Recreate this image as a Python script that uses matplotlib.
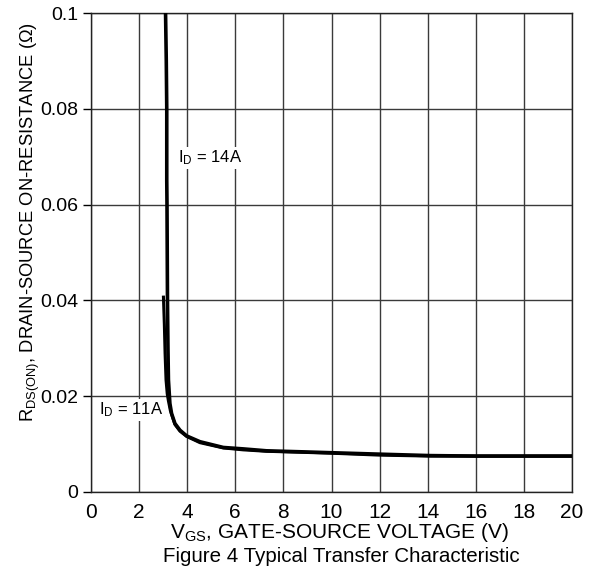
import matplotlib
matplotlib.use("Agg")
import matplotlib.pyplot as plt

plt.rcParams['font.family'] = ['Liberation Sans', 'DejaVu Sans']
plt.rcParams['mathtext.fontset'] = 'custom'
plt.rcParams['mathtext.rm'] = 'Liberation Sans'
plt.rcParams['mathtext.it'] = 'Liberation Sans'

# Data (V_GS in V, R_DS(on) in ohm)
vgs_14a = [3.10, 3.13, 3.15, 3.15, 3.16, 3.17, 3.18, 3.20, 3.22, 3.28, 3.35, 3.49, 3.70, 3.98,
           4.53, 5.50, 6.33, 7.30, 8.69, 10.0, 12.0, 14.1, 16.0, 18.0, 20.0]
rds_14a = [0.100, 0.090, 0.080, 0.065, 0.060, 0.050, 0.040, 0.030, 0.0234, 0.0185, 0.0164, 0.0143,
           0.0129, 0.0117, 0.0105, 0.0093, 0.0090, 0.0086, 0.0084, 0.0082, 0.0079, 0.0076,
           0.0075, 0.0075, 0.0075]
vgs_11a = [3.01, 3.05, 3.08, 3.12, 3.17, 3.22, 3.30, 3.49, 3.70, 3.98, 4.53, 5.50, 6.33, 7.30,
           8.69, 10.0, 12.0, 14.1, 16.0, 18.0, 20.0]
rds_11a = [0.041, 0.035, 0.029, 0.0234, 0.0205, 0.0190, 0.0170, 0.0141, 0.0127, 0.0116, 0.0103,
           0.0092, 0.0088, 0.0085, 0.0083, 0.0081, 0.0077, 0.0075, 0.0075, 0.0075, 0.0075]

x_ticks = [0, 2, 4, 6, 8, 10, 12, 14, 16, 18, 20]
y_ticks = [0, 0.02, 0.04, 0.06, 0.08, 0.1]
y_tick_labels = ['0', '0.02', '0.04', '0.06', '0.08', '0.1']

fig = plt.figure(figsize=(5.99, 5.75), dpi=100)
ax = fig.add_axes([91/599, 1 - 492/575, (572-91)/599, (492-13)/575])

ax.plot(vgs_14a, rds_14a, color='black', lw=2.6, solid_capstyle='butt', zorder=3)
ax.plot(vgs_11a, rds_11a, color='black', lw=2.2, solid_capstyle='butt', zorder=3)

ax.set_xlim(0, 20)
ax.set_ylim(0, 0.1)
ax.set_xticks(x_ticks)
ax.set_yticks(y_ticks)
ax.set_yticklabels(y_tick_labels)
ax.grid(True, color='#3a3a3a', lw=1.0)
ax.set_axisbelow(True)
for s in ax.spines.values():
    s.set_color('#222222')
    s.set_linewidth(1.0)

ax.tick_params(axis='x', length=0, pad=8, labelsize=15)
ax.tick_params(axis='y', length=6, width=1, pad=3, labelsize=14, direction='out')

ax.text(3.62, 0.0697, r'$\mathregular{I_D}$ = 14A', fontsize=12, va='center', ha='left',
        bbox=dict(facecolor='white', edgecolor='none', pad=1.5), zorder=4)
ax.text(0.35, 0.0171, r'$\mathregular{I_D}$ = 11A', fontsize=12, va='center', ha='left',
        bbox=dict(facecolor='white', edgecolor='none', pad=1.5), zorder=4)

fig.text(340/599, 1 - 533/575, r'$\mathregular{V_{GS}}$, GATE-SOURCE VOLTAGE (V)',
         fontsize=15, ha='center', va='center')
fig.text(341/599, 1 - 557/575, 'Figure 4 Typical Transfer Characteristic',
         fontsize=14.8, ha='center', va='center')
fig.text(30/599, 1 - 222/575, r'$\mathregular{R_{DS(ON)}}$, DRAIN-SOURCE ON-RESISTANCE (Ω)',
         fontsize=13.2, ha='center', va='center', rotation=90)

fig.savefig('out.png', dpi=100, facecolor='white')
